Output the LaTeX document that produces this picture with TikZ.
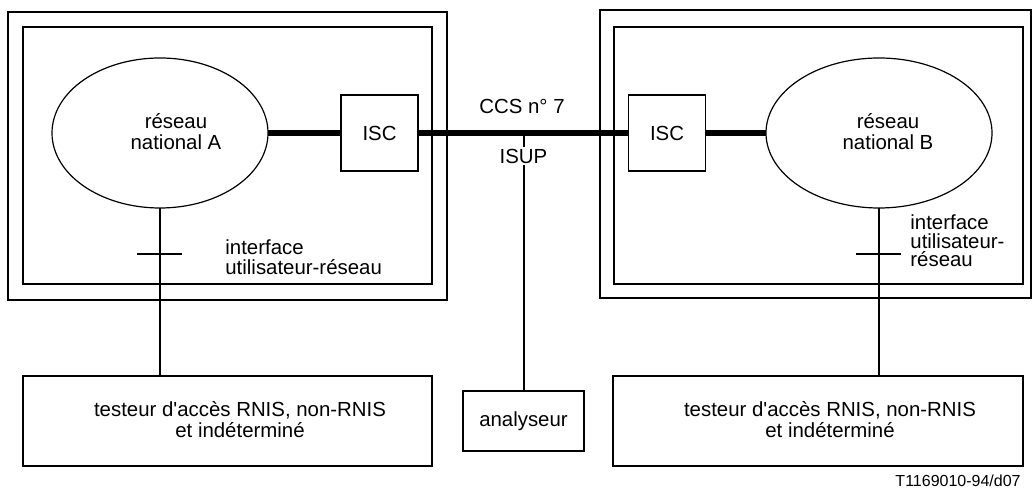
\documentclass[tikz,border=0pt]{standalone}
\usepackage{fontspec}
\setmainfont{Liberation Sans}[Ligatures=TeXOff]
\usetikzlibrary{shapes.geometric}
\begin{document}
\begin{tikzpicture}[x=0.5pt,y=-0.5pt,
  every node/.style={font=\fontsize{10.2}{10.5}\selectfont},
  frame/.style={draw, line width=0.6pt, inner sep=0pt, outer sep=0pt},
  net/.style={draw, ellipse, line width=0.6pt, inner sep=0pt, outer sep=0pt},
  txt/.style={inner sep=0pt, align=center},
  lbl/.style={inner sep=0pt, anchor=west, align=left},
  trunk/.style={line width=2.6pt},
  link/.style={line width=1pt},
  tickmark/.style={line width=1pt}]
\useasboundingbox (0,0) rectangle (1032,490);
% containers
\node[frame, minimum width=219.5pt, minimum height=144pt] (outA) at (227.5,156) {};
\node[frame, minimum width=204.5pt, minimum height=128.5pt] (inA) at (227.5,155.5) {};
\node[frame, minimum width=215.5pt, minimum height=144pt] (outB) at (815.5,154) {};
\node[frame, minimum width=204.5pt, minimum height=128.5pt] (inB) at (818.5,155.5) {};
% networks
\node[net, minimum width=108pt, minimum height=75pt] (ellA) at (160,133) {};
\node[net, minimum width=113pt, minimum height=75pt] (ellB) at (879,133) {};
\node[txt] (lblA) at (176,132) {réseau\\national A};
\node[txt] (lblB) at (888,132) {réseau\\national B};
% ISC
\node[frame, minimum width=38.5pt, minimum height=38pt] (iscA) at (379.5,133) {ISC};
\node[frame, minimum width=38.5pt, minimum height=38pt] (iscB) at (667,133) {ISC};
\draw[trunk] (ellA.east) -- (iscA.west);
\draw[trunk] (iscA.east) -- (iscB.west);
\draw[trunk] (iscB.east) -- (ellB.west);
\node[txt] (ccs) at (522,106) {CCS n° 7};
% analyser
\node[frame, minimum width=60.5pt, minimum height=30pt] (ana) at (523.5,421) {analyseur};
\coordinate (tap) at (ana.north |- iscA.east);
\draw[link] (tap) -- (ana.north);
\node[fill=white, inner sep=1pt] (isup) at (523.5,156) {ISUP};
% testers
\node[frame, minimum width=204.5pt, minimum height=45pt] (testA) at (227.5,421) {};
\node[txt] (ttA) at (240,419.5) {testeur d'accès RNIS, non-RNIS\\et indéterminé};
\node[frame, minimum width=205pt, minimum height=45pt] (testB) at (818,421) {};
\node[txt] (ttB) at (830,419.5) {testeur d'accès RNIS, non-RNIS\\et indéterminé};
\draw[link] (ellA.south) -- (ellA.south |- testA.north);
\draw[link] (ellB.south) -- (ellB.south |- testB.north);
% interface marks
\coordinate (xA) at (160,254);
\coordinate (xB) at (879,254);
\draw[tickmark] ([xshift=-11.5pt]xA) -- ([xshift=11pt]xA);
\draw[tickmark] ([xshift=-11.5pt]xB) -- ([xshift=11pt]xB);
\node[lbl, font=\fontsize{10.2}{10}\selectfont] (ifA) at (225,257) {interface\\utilisateur-réseau};
\node[lbl, font=\fontsize{10.2}{9.3}\selectfont] (ifB) at (910,241) {interface\\utilisateur-\\réseau};
% reference
\node[inner sep=0pt, anchor=east, font=\fontsize{8}{9}\selectfont] (ref) at (1021,481) {T1169010-94/d07};
\end{tikzpicture}
\end{document}
